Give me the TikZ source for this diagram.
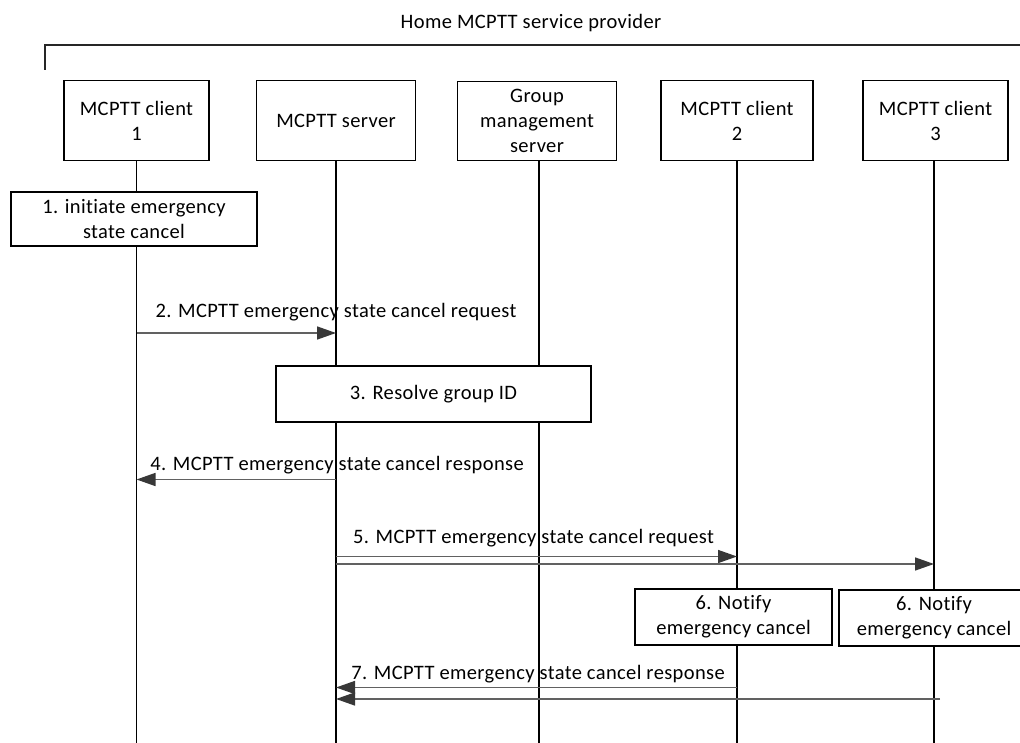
\documentclass[tikz,border=0pt]{standalone}
\usepackage{fontspec}
\setmainfont{Carlito}[Ligatures={NoCommon},LetterSpace=1.8]
\usetikzlibrary{arrows.meta}
\begin{document}
\begin{tikzpicture}[x=1pt,y=-1pt,
  every node/.style={font=\fontsize{20.5}{25}\selectfont},
  box/.style={draw=black, line width=1.2pt, fill=white, align=center, inner sep=0pt},
  life/.style={draw=black, line width=1.1pt},
  bracket/.style={draw=black!85, line width=1.2pt},
  msg/.style={draw=black!62, line width=1.5pt, -{Triangle[length=19pt,width=13pt,color=black!78]}},
  lbl/.style={anchor=base, inner sep=0pt}
]
\useasboundingbox (0,0) rectangle (1020,743);

% title and bracket
\node[lbl] (title) at (531,29) {Home MCPTT service provider};
\coordinate (bl) at (45,70);
\coordinate (bc) at (45,45);
\coordinate (br) at (1020,45);
\draw[bracket] (bl) -- (bc) -- (br);

% header boxes
\node[box, minimum width=145pt, minimum height=80pt] (c1) at (136.5,120.5) {MCPTT client\\1};
\node[box, minimum width=159pt, minimum height=80pt] (srv) at (336,120.5) {MCPTT server};
\node[box, minimum width=159pt, minimum height=79pt] (gms) at (537,121) {Group\\management\\server};
\node[box, minimum width=152pt, minimum height=80pt] (c2) at (737,120.5) {MCPTT client\\2};
\node[box, minimum width=145pt, minimum height=80pt] (c3) at (935.5,120.5) {MCPTT client\\3};

% lifelines
\coordinate (bot) at (0,743);
\draw[life] (c1.south) -- (c1.south |- bot);
\draw[life] (srv.south) -- (srv.south |- bot);
\draw[life] ([xshift=2pt]gms.south) -- ([xshift=2pt]gms.south |- bot);
\draw[life] (c2.south) -- (c2.south |- bot);
\draw[life] ([xshift=-1.5pt]c3.south) -- ([xshift=-1.5pt]c3.south |- bot);

% step boxes
\node[box, minimum width=246pt, minimum height=54pt] (s1) at (134,219) {1. initiate emergency\\state cancel};
\node[box, minimum width=315pt, minimum height=56pt] (s3) at (433.5,394) {3. Resolve group ID};
\node[box, minimum width=197pt, minimum height=56pt] (s6a) at (733.5,617) {6. Notify\\emergency cancel};
\node[box, minimum width=190pt, minimum height=56pt] (s6b) at (934,618) {6. Notify\\emergency cancel};

% message rows
\coordinate (a2) at (0,333);
\coordinate (a4) at (0,479.5);
\coordinate (a5) at (0,556.5);
\coordinate (a5b) at (0,564);
\coordinate (a7) at (0,687.5);
\coordinate (s7b) at (940,699);

% 2
\draw[msg] (c1.south |- a2) -- (srv.south |- a2);
\node[lbl] (l2) at (336,318) {2. MCPTT emergency state cancel request};
% 4
\draw[msg] (srv.south |- a4) -- (c1.south |- a4);
\node[lbl] (l4) at (337,470) {4. MCPTT emergency state cancel response};
% 5
\draw[msg] (srv.south |- a5) -- (c2.south |- a5);
\draw[msg] (srv.south |- a5b) -- ([xshift=-1.5pt]c3.south |- a5b);
\node[lbl] (l5) at (533.5,543) {5. MCPTT emergency state cancel request};
% 7
\draw[msg] (c2.south |- a7) -- (srv.south |- a7);
\draw[msg] (s7b) -- (srv.south |- s7b);
\node[lbl] (l7) at (538,679) {7. MCPTT emergency state cancel response};
\end{tikzpicture}
\end{document}
